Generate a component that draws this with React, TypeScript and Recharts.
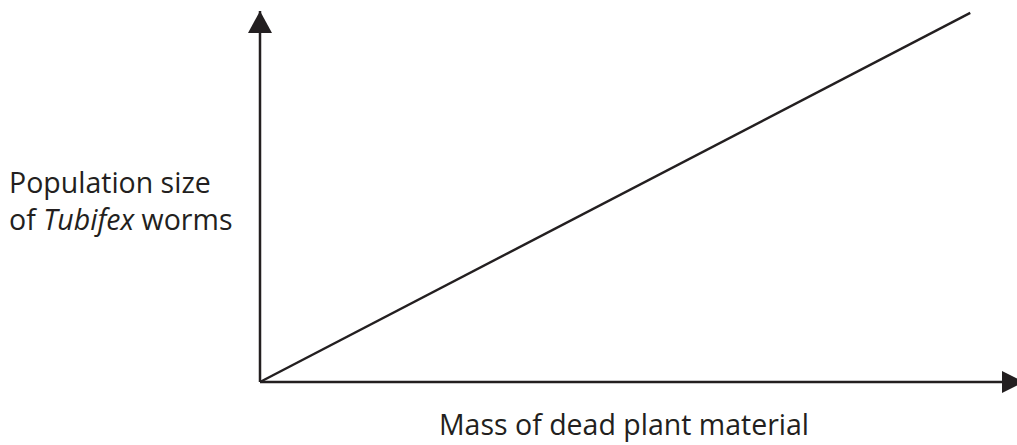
import { LineChart, Line, XAxis, YAxis, ReferenceDot } from "recharts";

const ink = "#231f20";

// schematic straight-line relationship, axes in arbitrary units
const massValues = [0, 94.7];
const populationValues = [0, 99.5];
const xAxisTitle = "Mass of dead plant material";
const yAxisTitle = ["Population size", "of ", "Tubifex", " worms"];

const data = massValues.map((mass, i) => ({ mass, population: populationValues[i] }));

const fontFamily = "'Open Sans', 'Noto Sans', sans-serif";

function UpArrow(props: any) {
    const { cx, cy } = props;
    return <path d={`M${cx},${cy} L${cx - 12},${cy + 22} L${cx + 12},${cy + 22} Z`} fill={ink} />;
}

function RightArrow(props: any) {
    const { cx, cy } = props;
    return <path d={`M${cx + 14},${cy} L${cx - 8},${cy - 11} L${cx - 8},${cy + 11} Z`} fill={ink} />;
}

function XTitle(props: any) {
    const { viewBox } = props;
    return (
        <text
            x={viewBox.x + viewBox.width / 2 - 11}
            y={viewBox.y + 53}
            textAnchor="middle"
            fill={ink}
            fontSize={28.5}
            fontFamily={fontFamily}
        >
            {xAxisTitle}
        </text>
    );
}

function YTitle(props: any) {
    const { viewBox } = props;
    const mid = viewBox.y + viewBox.height / 2;
    return (
        <text fill={ink} fontSize={28.5} fontFamily={fontFamily}>
            <tspan x={viewBox.x + 9} y={mid - 3.5}>
                {yAxisTitle[0]}
            </tspan>
            <tspan x={viewBox.x + 9} y={mid + 33.5}>
                {yAxisTitle[1]}
                <tspan fontStyle="italic">{yAxisTitle[2]}</tspan>
                {yAxisTitle[3]}
            </tspan>
        </text>
    );
}

export default function App() {
    return (
        <div style={{ position: "absolute", left: 0, top: 0, background: "#fff" }}>
            <LineChart
                width={1017}
                height={445}
                data={data}
                margin={{ top: 11, right: 7, left: 0, bottom: 0 }}
            >
                <XAxis
                    dataKey="mass"
                    type="number"
                    domain={[0, 100]}
                    tick={false}
                    tickLine={false}
                    height={63}
                    axisLine={{ stroke: ink, strokeWidth: 2.5 }}
                    label={<XTitle />}
                />
                <YAxis
                    type="number"
                    domain={[0, 100]}
                    tick={false}
                    tickLine={false}
                    width={260}
                    axisLine={{ stroke: ink, strokeWidth: 2.5 }}
                    label={<YTitle />}
                />
                <Line
                    dataKey="population"
                    stroke={ink}
                    strokeWidth={2.4}
                    dot={false}
                    isAnimationActive={false}
                />
                <ReferenceDot x={0} y={100} ifOverflow="visible" shape={<UpArrow />} />
                <ReferenceDot x={100} y={0} ifOverflow="visible" shape={<RightArrow />} />
            </LineChart>
        </div>
    );
}
